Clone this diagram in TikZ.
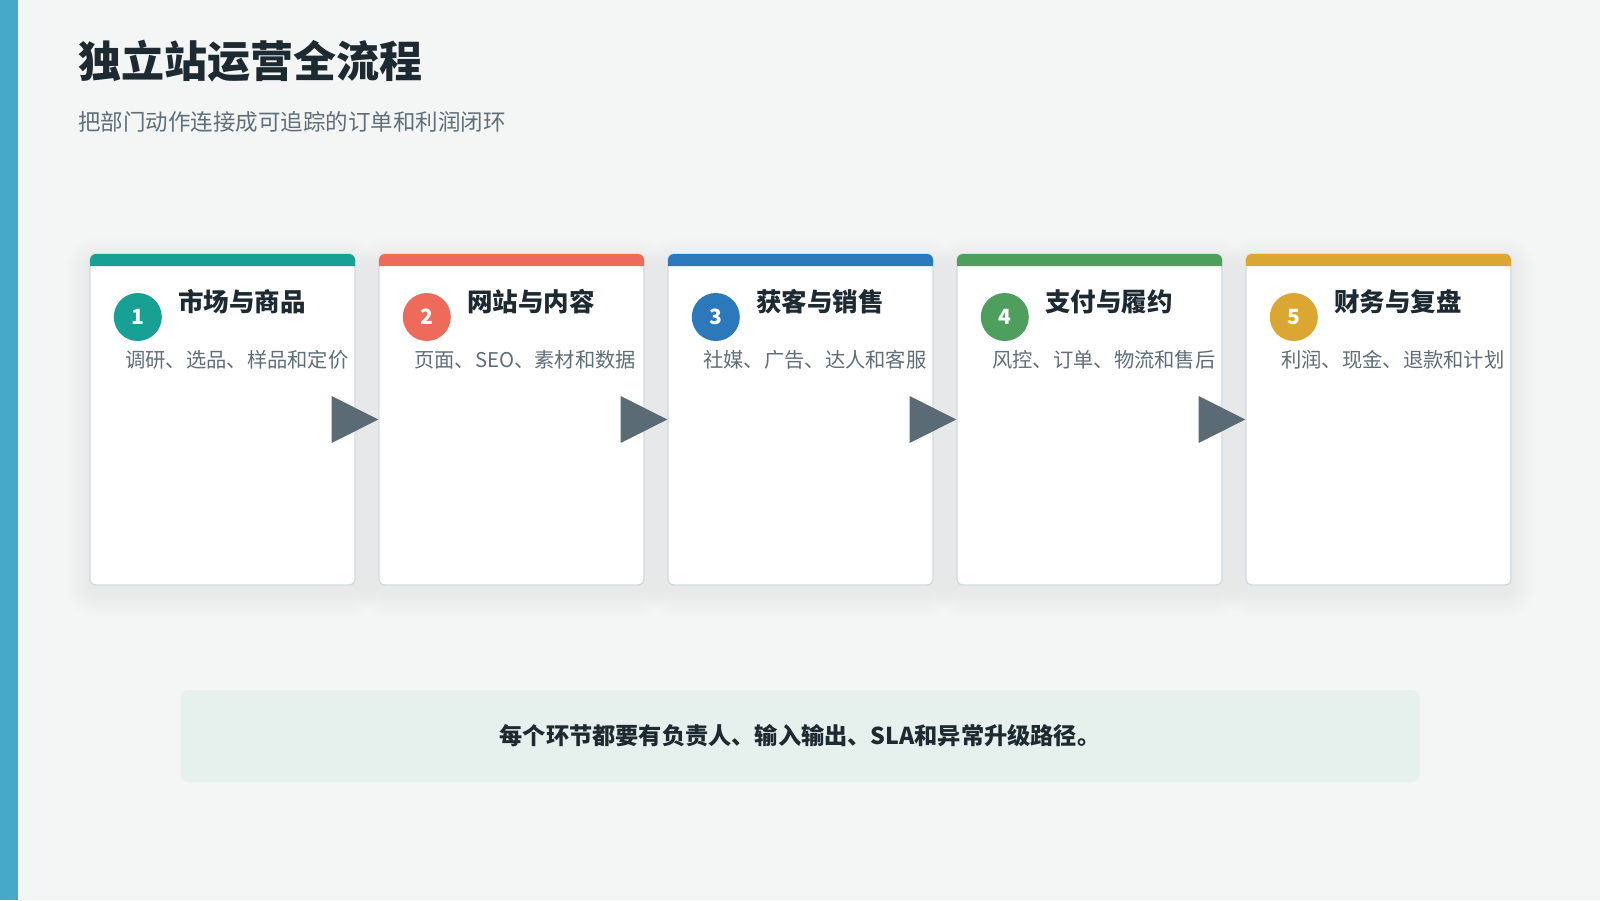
\documentclass[tikz,border=0pt]{standalone}
\usepackage{fontspec}
\setmainfont{Noto Sans CJK SC}
\usetikzlibrary{calc}
\definecolor{bgc}{HTML}{F4F6F5}
\definecolor{leftbar}{HTML}{47A9C9}
\definecolor{titlec}{HTML}{1E2A32}
\definecolor{subc}{HTML}{5F6E78}
\definecolor{borderc}{HTML}{D0D9DE}
\definecolor{arrowc}{HTML}{5B6B75}
\definecolor{cA}{HTML}{17A093}
\definecolor{cB}{HTML}{EE6A5A}
\definecolor{cC}{HTML}{2B79BA}
\definecolor{cD}{HTML}{4E9E5E}
\definecolor{cE}{HTML}{DBA631}
\definecolor{notebg}{HTML}{E6F0EC}
\tikzset{
  cardbox/.style={draw=borderc, line width=1.3pt, fill=white, rounded corners=6pt, minimum width=265pt, minimum height=331pt, inner sep=0pt},
  numdot/.style={circle, minimum size=48pt, inner sep=0pt, text=white, font=\bfseries\fontsize{21}{24}\selectfont},
  cardtitle/.style={anchor=west, inner sep=0pt, text=titlec, font=\bfseries\fontsize{25.5}{30}\selectfont},
  carddesc/.style={anchor=west, inner sep=0pt, text=subc, font=\fontsize{20.3}{24}\selectfont},
}
\begin{document}
\begin{tikzpicture}[x=1pt,y=-1pt]
\useasboundingbox (0,0) rectangle (1600,900);
\fill[bgc] (0,0) rectangle (1600,900);
\fill[leftbar] (0,0) rectangle (18,900);
\node[anchor=west, inner sep=0pt, text=titlec, font=\bfseries\fontsize{43}{50}\selectfont] (title) at (78,61) {独立站运营全流程};
\node[anchor=west, inner sep=0pt, text=subc, font=\fontsize{22.5}{28}\selectfont] (subtitle) at (78,122) {把部门动作连接成可追踪的订单和利润闭环};
% shadows
\foreach \i in {1,...,5}{
  \pgfmathsetmacro\xa{90+(\i-1)*289}
  \pgfmathsetmacro\xb{\xa+265}
  \foreach \k in {1,...,12}{
    \fill[black, opacity=0.0045, rounded corners=6pt+2*\k pt] (\xa-2*\k, 254-2*\k+8) rectangle (\xb+2*\k, 585+2*\k+8);
  }
}
% cards
\foreach \i/\c/\t/\d in {1/cA/市场与商品/调研、选品、样品和定价, 2/cB/网站与内容/页面、SEO、素材和数据, 3/cC/获客与销售/社媒、广告、达人和客服, 4/cD/支付与履约/风控、订单、物流和售后, 5/cE/财务与复盘/利润、现金、退款和计划}{
  \pgfmathsetmacro\xa{90+(\i-1)*289}
  \pgfmathsetmacro\xb{\xa+265}
  \node[cardbox] (card\i) at (\xa+132.5, 419.5) {};
  \fill[\c] (\xa,266) [rounded corners=6pt] -- (\xa,254) -- (\xb,254) [sharp corners] -- (\xb,266) -- cycle;
  \node[numdot, fill=\c] (num\i) at (\xa+47.8, 317) {\i};
  \node[cardtitle] (ttl\i) at (\xa+88, 302) {\t};
  \node[carddesc] (desc\i) at (\xa+35, 360) {\d};
}
% arrows
\foreach \i in {1,...,4}{
  \pgfmathtruncatemacro\j{\i+1}
  \fill[arrowc] ($(card\i.east)+(-24,-23.5)$) -- ($(card\i.east)+(-24,23.5)$) -- (card\j.west) -- cycle;
}
% note
\node[fill=notebg, rounded corners=8pt, minimum width=1239pt, minimum height=92pt, inner sep=0pt] (note) at (800,736) {};
\node[inner sep=0pt, text=titlec, font=\bfseries\fontsize{23.2}{26}\selectfont] (notetext) at (note.center) {每个环节都要有负责人、输入输出、SLA和异常升级路径。};
\end{tikzpicture}
\end{document}
